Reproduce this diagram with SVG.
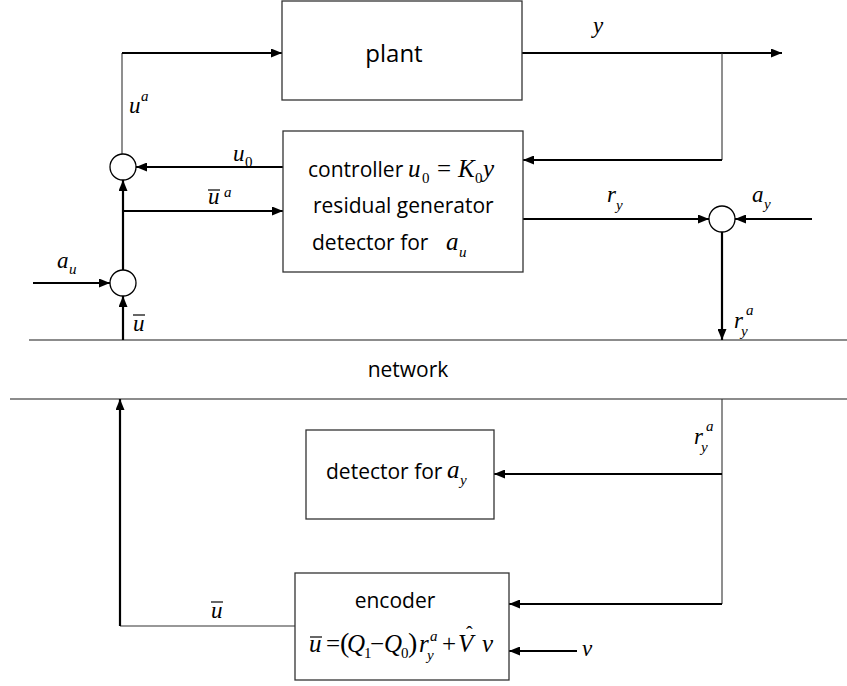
<svg xmlns="http://www.w3.org/2000/svg" width="847" height="686" viewBox="0 0 847 686">
<defs>
<marker id="ah" markerWidth="11" markerHeight="9" refX="11" refY="4.5" orient="auto" markerUnits="userSpaceOnUse"><path d="M0,0 L11,4.5 L0,9 z" fill="#000"/></marker>
<style>
.box{fill:#fff;stroke:#333;stroke-width:1.3}
.sum{fill:#fff;stroke:#000;stroke-width:1.3}
.thick{stroke:#000;stroke-width:2.2;fill:none}
.thin{stroke:#333;stroke-width:1.1;fill:none}
.net{stroke:#666;stroke-width:1.3;fill:none}
.lbl{font-family:"Open Sans","Noto Sans",sans-serif;font-size:21px;fill:#000}
.m{font-family:"Liberation Serif","Times New Roman",serif;font-style:italic;font-size:23px;fill:#000}
.f{font-size:25px}
.s{font-size:15px}
.n{font-style:normal}
.bar{stroke:#000;stroke-width:1.2}
</style>
</defs>
<rect width="847" height="686" fill="#fff"/>

<g id="network">
<line class="net" x1="29" y1="340" x2="847" y2="340"/>
<line class="net" x1="10" y1="399" x2="847" y2="399"/>
<text class="lbl" x="408" y="377" text-anchor="middle">network</text>
</g>

<g id="connectors">
<polyline class="thin" points="122,154 122,53"/>
<line class="thick" x1="122" y1="53" x2="282" y2="53" marker-end="url(#ah)"/>
<line class="thick" x1="522" y1="53" x2="782" y2="53" marker-end="url(#ah)"/>
<polyline class="thin" points="722,53 722,160"/>
<line class="thick" x1="722" y1="160" x2="523" y2="160" marker-end="url(#ah)"/>
<line class="thick" x1="283" y1="167" x2="136" y2="167" marker-end="url(#ah)"/>
<line class="thick" x1="123" y1="211" x2="283" y2="211" marker-end="url(#ah)"/>
<line class="thick" x1="123" y1="270" x2="123" y2="180" marker-end="url(#ah)"/>
<line class="thick" x1="33" y1="283" x2="110" y2="283" marker-end="url(#ah)"/>
<line class="thick" x1="123" y1="340" x2="123" y2="296" marker-end="url(#ah)"/>
<line class="thick" x1="523" y1="219" x2="709" y2="219" marker-end="url(#ah)"/>
<line class="thick" x1="812" y1="219" x2="735" y2="219" marker-end="url(#ah)"/>
<line class="thick" x1="722" y1="232" x2="722" y2="340" marker-end="url(#ah)"/>
<polyline class="thin" points="722,399 722,604"/>
<line class="thick" x1="722" y1="474" x2="494" y2="474" marker-end="url(#ah)"/>
<line class="thick" x1="722" y1="604" x2="509" y2="604" marker-end="url(#ah)"/>
<line class="thick" x1="577" y1="651" x2="509" y2="651" marker-end="url(#ah)"/>
<polyline class="thin" points="295,626 120,626"/>
<line class="thick" x1="120" y1="626" x2="120" y2="399" marker-end="url(#ah)"/>
</g>

<g id="plant">
<rect class="box" x="282" y="1" width="240" height="99"/>
<text class="lbl" x="394" y="62" text-anchor="middle" style="font-size:24px">plant</text>
</g>

<g id="controller">
<rect class="box" x="283" y="131" width="240" height="141"/>
<text class="lbl" x="308" y="177">controller</text>
<text class="m f" y="177"><tspan x="408">u</tspan><tspan class="s n" x="422" y="183">0</tspan><tspan class="n" x="437" y="177">=</tspan><tspan x="458">K</tspan><tspan class="s n" x="475" y="183">0</tspan><tspan x="483" y="177">y</tspan></text>
<text class="lbl" x="313" y="213">residual generator</text>
<text class="lbl" x="312" y="250">detector for</text>
<text class="m f" y="250"><tspan x="446">a</tspan><tspan class="s" x="459" y="257">u</tspan></text>
</g>

<g id="sum1"><circle class="sum" cx="123" cy="167" r="13"/></g>
<g id="sum2"><circle class="sum" cx="123" cy="283" r="13"/></g>
<g id="sum3"><circle class="sum" cx="722" cy="219" r="13"/></g>

<g id="detector-ay">
<rect class="box" x="306" y="430" width="188" height="89"/>
<text class="lbl" x="326" y="479">detector for</text>
<text class="m f" y="478"><tspan x="447">a</tspan><tspan class="s" x="460" y="485">y</tspan></text>
</g>

<g id="encoder">
<rect class="box" x="295" y="573" width="214" height="107"/>
<text class="lbl" x="395" y="608" text-anchor="middle">encoder</text>
<text class="m f" y="652"><tspan x="309">u</tspan><tspan class="n" x="326">=</tspan><tspan class="n" x="340" style="font-size:28px">(</tspan><tspan x="347">Q</tspan><tspan class="s n" x="364" y="658">1</tspan><tspan class="n" x="370" y="652">−</tspan><tspan x="384">Q</tspan><tspan class="s n" x="401" y="658">0</tspan><tspan class="n" x="408" y="652" style="font-size:28px">)</tspan><tspan x="419" y="652">r</tspan><tspan class="s" x="430" y="641">a</tspan><tspan class="s" x="427" y="660">y</tspan><tspan class="n" x="442" y="652">+</tspan><tspan x="458">V</tspan><tspan x="482">v</tspan></text>
<text class="m n" x="466" y="641" style="font-size:20px">ˆ</text>
<line class="bar" x1="310" y1="637" x2="322" y2="637"/>
</g>

<g id="labels">
<text class="m" y="113"><tspan x="129">u</tspan><tspan class="s" x="141" y="101">a</tspan></text>
<text class="m" y="161"><tspan x="233">u</tspan><tspan class="s n" x="245" y="167">0</tspan></text>
<text class="m" y="204"><tspan x="208">u</tspan><tspan class="s" x="224" y="197">a</tspan></text>
<line class="bar" x1="208" y1="190" x2="220" y2="190"/>
<text class="m" y="268"><tspan x="57">a</tspan><tspan class="s" x="69" y="274">u</tspan></text>
<text class="m" x="133" y="331">u</text>
<line class="bar" x1="133" y1="315" x2="145" y2="315"/>
<text class="m" x="593" y="33">y</text>
<text class="m" y="202"><tspan x="607">r</tspan><tspan class="s" x="616" y="210">y</tspan></text>
<text class="m" y="202"><tspan x="752">a</tspan><tspan class="s" x="764" y="209">y</tspan></text>
<text class="m" y="328"><tspan x="734">r</tspan><tspan class="s" x="746" y="315">a</tspan><tspan class="s" x="741" y="336">y</tspan></text>
<text class="m" y="444"><tspan x="694">r</tspan><tspan class="s" x="706" y="431">a</tspan><tspan class="s" x="701" y="452">y</tspan></text>
<text class="m" x="582" y="656">v</text>
<text class="m" x="211" y="618">u</text>
<line class="bar" x1="211" y1="602" x2="223" y2="602"/>
</g>
</svg>
